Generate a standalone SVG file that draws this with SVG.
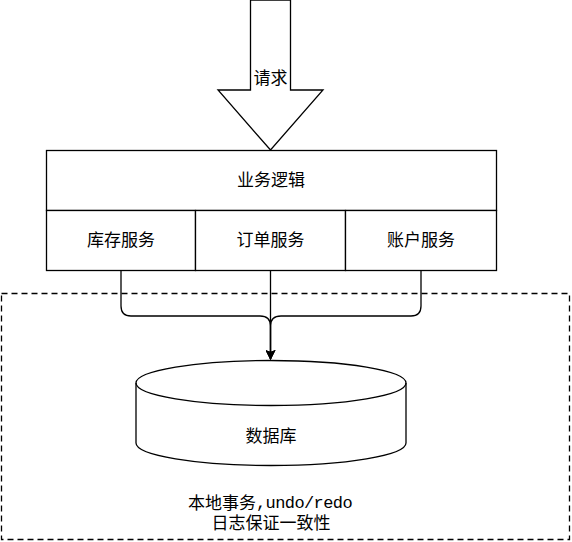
<svg xmlns="http://www.w3.org/2000/svg" width="572" height="542" viewBox="0 0 572 542">
<style>
.s{fill:#fff;stroke:#000;stroke-width:1.3}
.t{font-family:"Liberation Sans","Noto Sans CJK SC",sans-serif;font-size:17px;fill:#000;text-anchor:middle;dominant-baseline:central}
.m{font-family:"Liberation Mono","Noto Sans CJK SC",monospace;font-size:17px}
.c{fill:none;stroke:#000;stroke-width:1.3}
</style>
<defs>
<marker id="ah" markerWidth="10" markerHeight="10" refX="9" refY="5" orient="auto" markerUnits="userSpaceOnUse">
<path d="M0,0 L10,5 L0,10 L2,5 Z" fill="#000"/>
</marker>
</defs>
<g id="boundary">
<rect x="1.5" y="293.5" width="568" height="246" fill="none" stroke="#000" stroke-width="1.3" stroke-dasharray="6,4"/>
<text class="t" x="270" y="503">本地事务<tspan class="m" letter-spacing="-0.6">,undo/redo</tspan></text>
<text class="t" x="271" y="523">日志保证一致性</text>
</g>
<g id="request">
<path class="s" d="M250.5,0 L290.5,0 L290.5,90 L323,90 L270.5,150 L218,90 L250.5,90 Z"/>
<text class="t" x="270.5" y="78">请求</text>
</g>
<g id="logic">
<rect class="s" x="46.5" y="150.5" width="450" height="60"/>
<text class="t" x="271" y="180">业务逻辑</text>
</g>
<g id="stock">
<rect class="s" x="46.5" y="210.5" width="149" height="60"/>
<text class="t" x="121" y="240">库存服务</text>
</g>
<g id="order">
<rect class="s" x="195.5" y="210.5" width="150" height="60"/>
<text class="t" x="270.5" y="240">订单服务</text>
</g>
<g id="account">
<rect class="s" x="345.5" y="210.5" width="151" height="60"/>
<text class="t" x="421" y="240">账户服务</text>
</g>
<g id="connectors">
<path class="c" d="M121,270.5 L121,306 Q121,316 131,316 L260,316 Q270.5,316 270.5,326 L270.5,359" marker-end="url(#ah)"/>
<path class="c" d="M421,270.5 L421,306 Q421,316 411,316 L281,316 Q270.5,316 270.5,326 L270.5,359" marker-end="url(#ah)"/>
<path class="c" d="M270.5,270.5 L270.5,359" marker-end="url(#ah)"/>
</g>
<g id="database">
<path class="s" d="M136,383 A135,22.5 0 0 1 406,383 L406,443 A135,22.5 0 0 1 136,443 Z"/>
<path class="c" d="M136,383 A135,22.5 0 0 0 406,383"/>
<text class="t" x="271" y="436">数据库</text>
</g>
</svg>
